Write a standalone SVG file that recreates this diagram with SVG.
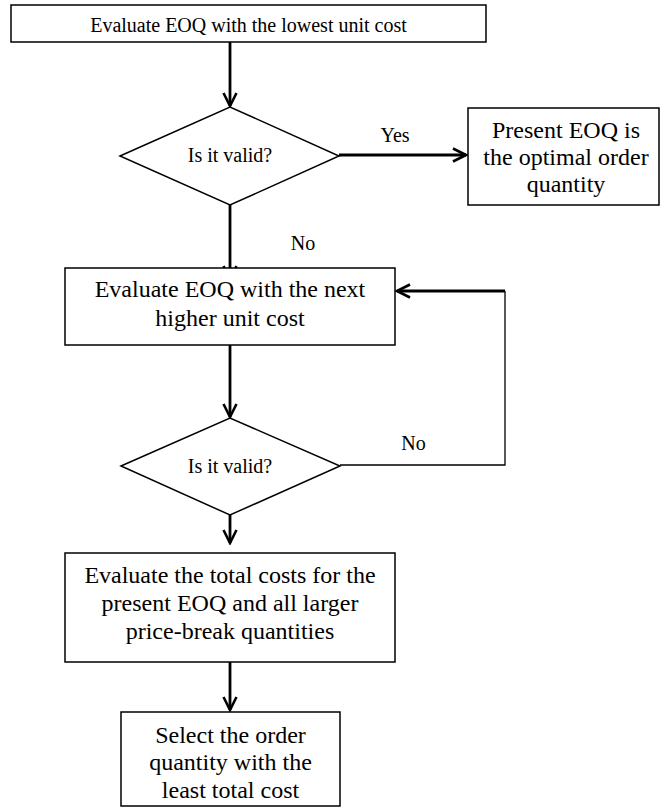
<svg xmlns="http://www.w3.org/2000/svg" width="661" height="809" viewBox="0 0 661 809">
<style>
.box{fill:#fff;stroke:#000;stroke-width:1.5}
.t{font-family:"Liberation Serif","Times New Roman",serif;fill:#000;text-anchor:middle}
.s20{font-size:20px}
.s24{font-size:24px}
.thick{fill:none;stroke:#000;stroke-width:2.8}
.thin{fill:none;stroke:#000;stroke-width:1.3}
</style>
<defs>
<marker id="ah" viewBox="0 0 16 16" refX="14" refY="8" markerWidth="16" markerHeight="16" markerUnits="userSpaceOnUse" orient="auto">
<path d="M1,1.5 L14,8 L1,14.5" fill="none" stroke="#000" stroke-width="2.6"/>
</marker>
</defs>
<rect width="661" height="809" fill="#fff"/>
<g id="connectors">
<path class="thick" d="M230,42 V106" marker-end="url(#ah)"/>
<path class="thick" d="M339,155 H466" marker-end="url(#ah)"/>
<path class="thick" d="M230,205 V279" marker-end="url(#ah)"/>
<path class="thick" d="M230,345 V417" marker-end="url(#ah)"/>
<path class="thick" d="M230,515 V543" marker-end="url(#ah)"/>
<path class="thick" d="M230,662 V710" marker-end="url(#ah)"/>
<path class="thin" d="M340,465 H505 V291"/>
<path class="thick" d="M505,291 H397" marker-end="url(#ah)"/>
<text class="t s20" x="395" y="142">Yes</text>
<text class="t s20" x="303" y="250">No</text>
<text class="t s20" x="413.5" y="450">No</text>
</g>
<g id="start">
<rect class="box" x="11" y="5" width="475" height="37"/>
<text class="t s20" x="248.5" y="32">Evaluate EOQ with the lowest unit cost</text>
</g>
<g id="decision1">
<polygon class="box" points="120,156 230,107 339,156 230,205"/>
<text class="t s20" x="230" y="162">Is it valid?</text>
</g>
<g id="optimal">
<rect class="box" x="468" y="108" width="191" height="97"/>
<text class="t s24" x="566" y="138">Present EOQ is</text>
<text class="t s24" x="566" y="165">the optimal order</text>
<text class="t s24" x="566" y="192">quantity</text>
</g>
<g id="next">
<rect class="box" x="65" y="268" width="330" height="77"/>
<text class="t s24" x="230" y="297">Evaluate EOQ with the next</text>
<text class="t s24" x="230" y="326">higher unit cost</text>
</g>
<g id="decision2">
<polygon class="box" points="121,466 230,418 340,466 230,515"/>
<text class="t s20" x="230" y="473">Is it valid?</text>
</g>
<g id="total">
<rect class="box" x="65" y="553" width="330" height="109"/>
<text class="t s24" x="230" y="583">Evaluate the total costs for the</text>
<text class="t s24" x="230" y="611">present EOQ and all larger</text>
<text class="t s24" x="230" y="639">price-break quantities</text>
</g>
<g id="select">
<rect class="box" x="121" y="712" width="219" height="94"/>
<text class="t s24" x="230.5" y="743">Select the order</text>
<text class="t s24" x="230.5" y="770">quantity with the</text>
<text class="t s24" x="230.5" y="798">least total cost</text>
</g>
</svg>
